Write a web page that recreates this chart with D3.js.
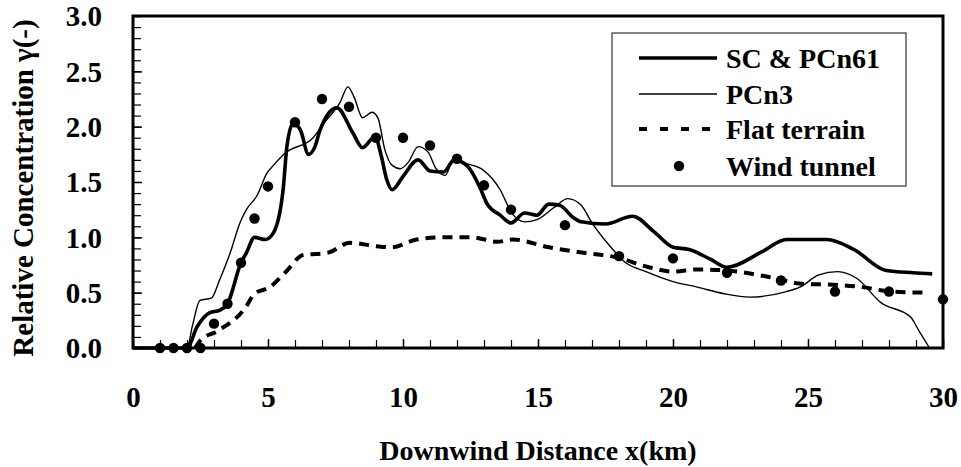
<!DOCTYPE html>
<html>
<head>
<meta charset="utf-8">
<script src="https://cdn.jsdelivr.net/npm/d3@7"></script>
<style>
  html,body{margin:0;padding:0;background:#fff;}
  svg{display:block;}
  text{font-family:"Liberation Serif","Times New Roman",serif;font-weight:bold;fill:#000;}
</style>
</head>
<body>
<svg id="chart" width="961" height="467"></svg>
<script>
// 读图得到的数据（x: km, y: 相对浓度）
const scPCn61 = [[0,0],[2.0,0],[2.37,0.19],[2.85,0.32],[3.2,0.34],[3.5,0.40],[4.0,0.77],[4.2,0.86],[4.5,1.0],[4.9,0.98],
  [5.2,1.04],[5.56,1.43],[5.7,1.82],[5.93,2.03],[6.2,1.97],[6.5,1.75],[6.74,1.82],[6.93,1.97],[7.55,2.17],[8.15,1.94],
  [8.5,1.81],[8.96,1.91],[9.2,1.73],[9.4,1.52],[9.6,1.43],[10.0,1.55],[10.56,1.70],[11.0,1.60],[11.5,1.59],[11.9,1.70],
  [12.4,1.64],[12.85,1.45],[13.1,1.31],[13.6,1.20],[14.0,1.13],[14.5,1.22],[14.96,1.20],[15.4,1.30],[15.8,1.29],[16.3,1.18],
  [16.6,1.14],[17.5,1.12],[18.5,1.19],[19.3,1.05],[20.0,0.91],[20.6,0.89],[21.4,0.80],[22.0,0.73],[23.3,0.87],[24.2,0.98],
  [25.7,0.98],[26.7,0.89],[27.9,0.70],[28.9,0.68],[29.6,0.67]];
const pcn3 = [[0,0],[2.0,0],[2.2,0.2],[2.48,0.43],[2.9,0.45],[3.2,0.61],[3.6,0.86],[3.96,1.13],[4.2,1.25],[4.6,1.38],
  [4.96,1.58],[5.2,1.65],[5.63,1.76],[6.67,1.90],[7.1,2.04],[7.67,2.22],[7.96,2.36],[8.2,2.26],[8.5,2.08],[8.85,2.13],
  [9.07,2.08],[9.33,1.79],[9.6,1.65],[9.9,1.62],[10.2,1.68],[10.56,1.82],[10.93,1.77],[11.2,1.63],[11.56,1.56],[11.9,1.72],
  [12.2,1.68],[12.96,1.61],[13.6,1.43],[14.0,1.23],[14.5,1.14],[14.96,1.16],[15.6,1.27],[16.1,1.35],[16.6,1.29],[17.0,1.13],
  [17.7,0.91],[18.2,0.78],[19.0,0.69],[20.0,0.60],[20.9,0.55],[21.9,0.49],[22.85,0.46],[24.2,0.51],[24.7,0.55],[25.4,0.66],
  [26.1,0.69],[26.8,0.63],[27.7,0.41],[28.8,0.28],[29.1,0.16],[29.5,0.0]];
const flatTerrain = [[2.3,0],[2.5,0.07],[3.1,0.15],[4.15,0.36],[4.5,0.49],[5.07,0.55],[5.63,0.68],[6.3,0.84],[7.2,0.86],
  [8.04,0.95],[9.0,0.92],[9.6,0.91],[10.5,0.98],[11.5,1.0],[12.55,1.0],[13.5,0.96],[14.07,0.98],[15.4,0.91],[16.7,0.86],
  [17.9,0.82],[19.1,0.73],[20.0,0.69],[20.9,0.71],[22.0,0.70],[23.6,0.64],[24.8,0.58],[26.1,0.57],[27.0,0.55],[28.1,0.51],[29.4,0.50]];
const windTunnel = [[1,0],[1.5,0],[2,0],[2.5,0],[3,0.22],[3.5,0.40],[4,0.77],[4.5,1.17],[5,1.46],[6,2.04],[7,2.25],
  [8,2.18],[9,1.90],[10,1.90],[11,1.83],[12,1.71],[13,1.47],[14,1.25],[16,1.11],[18,0.83],[20,0.81],[22,0.68],
  [24,0.61],[26,0.51],[28,0.51],[30,0.44]];
const xTicks = [0,5,10,15,20,25,30];
const yTicks = [0,0.5,1.0,1.5,2.0,2.5,3.0];
const legendNames = ['SC & PCn61','PCn3','Flat terrain','Wind tunnel'];

(function(){
  const svg = d3.select('#chart');
  const L = 133, T = 16, W = 810, H = 332;
  const x = d3.scaleLinear().domain([0,30]).range([L, L+W]);
  const y = d3.scaleLinear().domain([0,3]).range([T+H, T]);

  // 次刻度
  const minorY = d3.range(0, 3.0001, 0.1);
  const minorX = d3.range(0, 30.0001, 1);
  svg.append('g').attr('transform',`translate(${L},0)`)
    .call(d3.axisLeft(y).tickValues(minorY).tickSizeInner(-8).tickSizeOuter(0).tickFormat(''))
    .call(g=>g.select('.domain').remove())
    .selectAll('line').attr('stroke','#000').attr('stroke-width',1.2);
  svg.append('g').attr('transform',`translate(0,${T+H})`)
    .call(d3.axisBottom(x).tickValues(minorX).tickSizeInner(-8).tickSizeOuter(0).tickFormat(''))
    .call(g=>g.select('.domain').remove())
    .selectAll('line').attr('stroke','#000').attr('stroke-width',1.2);

  // 主刻度 + 标签
  const yAxis = svg.append('g').attr('transform',`translate(${L},0)`)
    .attr('font-family',null)
    .call(d3.axisLeft(y).tickValues(yTicks).tickSizeInner(-9).tickSizeOuter(0).tickPadding(31).tickFormat(d3.format('.1f')));
  yAxis.select('.domain').remove();
  yAxis.selectAll('line').attr('stroke','#000').attr('stroke-width',1.4);
  yAxis.selectAll('text').attr('font-size',29).attr('dy','0.34em');

  const xAxis = svg.append('g').attr('transform',`translate(0,${T+H})`)
    .call(d3.axisBottom(x).tickValues(xTicks).tickSizeInner(-9).tickSizeOuter(0).tickPadding(38).tickFormat(d3.format('d')));
  xAxis.select('.domain').remove();
  xAxis.selectAll('line').attr('stroke','#000').attr('stroke-width',1.4);
  xAxis.selectAll('text').attr('font-size',29);

  // 边框
  svg.append('rect').attr('x',L).attr('y',T).attr('width',W).attr('height',H)
    .attr('fill','none').attr('stroke','#000').attr('stroke-width',3);

  const line = d3.line().x(d=>x(d[0])).y(d=>y(d[1])).curve(d3.curveMonotoneX);
  const plot = svg.append('g');
  plot.append('path').datum(flatTerrain).attr('d',line).attr('fill','none')
    .attr('stroke','#000').attr('stroke-width',4).attr('stroke-dasharray','10,7');
  plot.append('path').datum(pcn3).attr('d',line).attr('fill','none')
    .attr('stroke','#000').attr('stroke-width',1.4).attr('stroke-linejoin','round');
  plot.append('path').datum(scPCn61).attr('d',line).attr('fill','none')
    .attr('stroke','#000').attr('stroke-width',3.6).attr('stroke-linejoin','round');
  plot.selectAll('circle.wt').data(windTunnel).enter().append('circle').attr('class','wt')
    .attr('cx',d=>x(d[0])).attr('cy',d=>y(d[1])).attr('r',5.2).attr('fill','#000');

  // 坐标轴标题
  svg.append('text').attr('x',L+W/2).attr('y',460).attr('text-anchor','middle')
    .attr('font-size',28).text('Downwind Distance x(km)');
  svg.append('text').attr('transform','translate(33,188) rotate(-90)').attr('text-anchor','middle')
    .attr('font-size',29).text('Relative Concentration γ(-)');

  // 图例
  const lg = svg.append('g');
  lg.append('rect').attr('x',612).attr('y',33).attr('width',294).attr('height',153)
    .attr('fill','#fff').attr('stroke','#333').attr('stroke-width',1.2);
  const rows = [58,94,129,166];
  lg.append('line').attr('x1',639).attr('x2',717).attr('y1',rows[0]).attr('y2',rows[0])
    .attr('stroke','#000').attr('stroke-width',3.6);
  lg.append('line').attr('x1',639).attr('x2',717).attr('y1',rows[1]).attr('y2',rows[1])
    .attr('stroke','#000').attr('stroke-width',1.4);
  lg.append('line').attr('x1',639).attr('x2',717).attr('y1',rows[2]).attr('y2',rows[2])
    .attr('stroke','#000').attr('stroke-width',4).attr('stroke-dasharray','8,13');
  lg.append('circle').attr('cx',679).attr('cy',rows[3]).attr('r',5.2).attr('fill','#000');
  lg.selectAll('text').data(legendNames).enter().append('text')
    .attr('x',726).attr('y',(d,i)=>rows[i]+9.5).attr('font-size',28).text(d=>d);
})();
</script>
</body>
</html>
